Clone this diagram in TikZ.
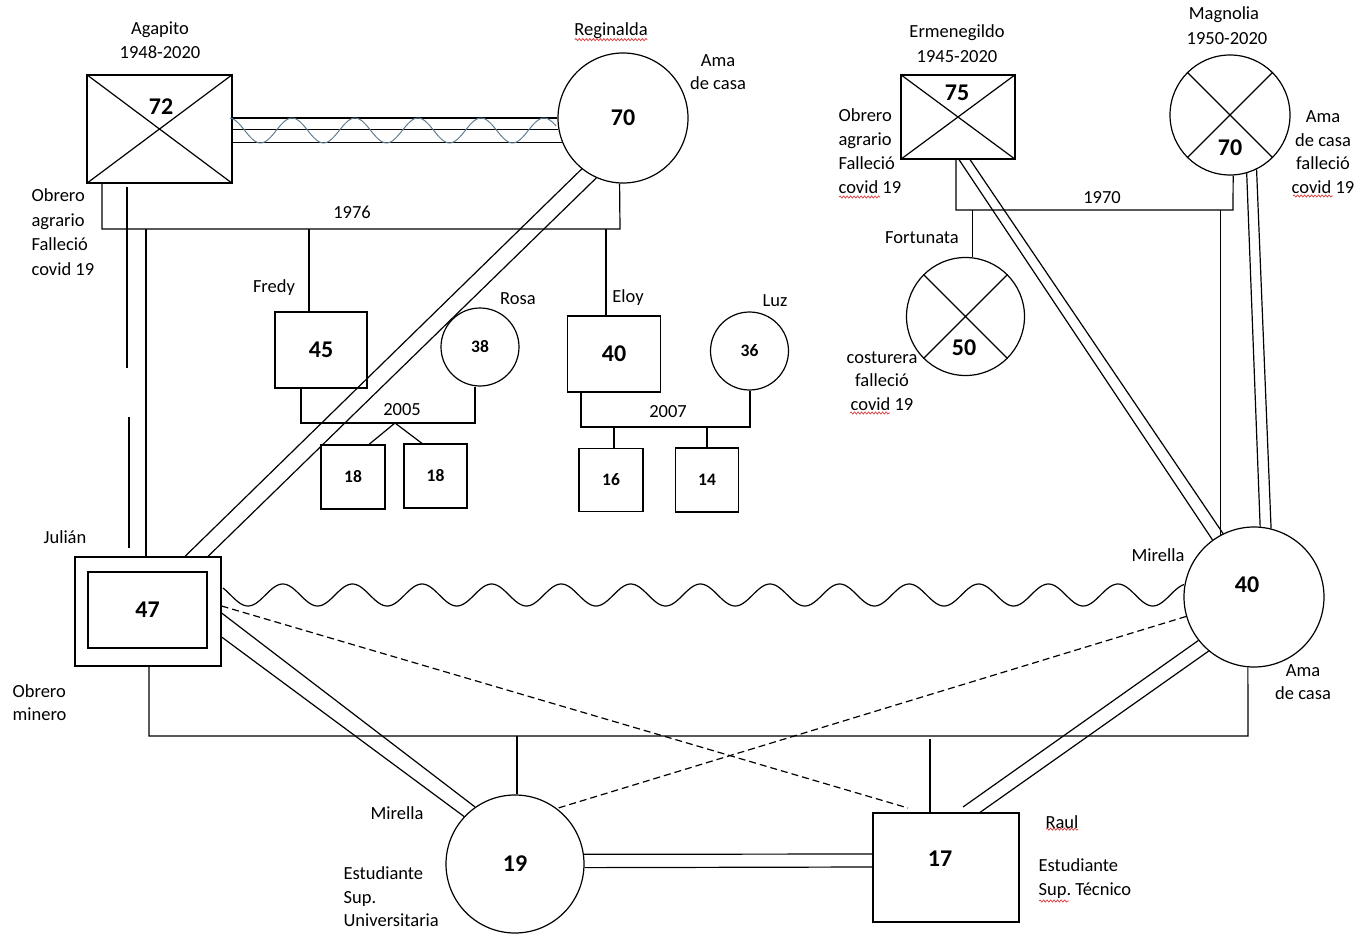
\documentclass[tikz,border=0pt]{standalone}
\usepackage{fontspec}
\setmainfont{Carlito}
\usetikzlibrary{decorations.pathmorphing}
\definecolor{wavec}{RGB}{95,125,145}
\definecolor{spellred}{RGB}{220,60,60}
\begin{document}
\begin{tikzpicture}[x=1pt,y=-1pt,line width=1.2pt,
  lbl/.style={font=\fontsize{18.5}{23.5}\selectfont, inner sep=0pt, align=center},
  infol/.style={lbl, align=left, anchor=west},
  bignum/.style={font=\bfseries\fontsize{24}{28}\selectfont},
  smallnum/.style={font=\bfseries\fontsize{17.5}{20}\selectfont},
  malebox/.style={draw, rectangle, inner sep=0pt},
  femcirc/.style={draw, circle, inner sep=0pt},
  dashedline/.style={dash pattern=on 7pt off 4pt},
  blueswave/.style={draw=wavec, line width=1pt},
  spell/.style={draw=spellred, line width=0.7pt, decorate, decoration={snake, amplitude=1.1pt, segment length=3.5pt}}]
\useasboundingbox (0,0) rectangle (1360,936);

% ---------- Agapito ----------
\node[malebox, minimum width=145pt, minimum height=108pt] (agap) at (159.5,129) {};
\draw (agap.north west) -- (agap.south east) (agap.north east) -- (agap.south west);
\node[bignum] (agapn) at (161,107) {72};
\node[lbl] (agapname) at (160,30) {Agapito};
\node[lbl] (agapyr) at (160,52) {1948-2020};
\node[infol, font=\fontsize{18.5}{24.7}\selectfont] (agapinfo) at (31,232) {Obrero\\agrario\\Falleció\\covid 19};

% ---------- Reginalda ----------
\node[femcirc, minimum size=130pt, bignum] (reg) at (623,118) {70};
\node[lbl] (regname) at (611,31) {Reginalda};
\draw[spell] ([xshift=1pt]regname.south west) -- ([xshift=-1pt]regname.south east);
\node[lbl] (reginfo) at (718,72) {Ama\\de casa};

% marriage lines with wave
\draw (agap.east |- reg.west) -- (reg.west);
\draw (agap.east |- reg.190) -- (reg.190);
\draw (agap.east |- reg.202) -- (reg.202);
\draw[blueswave] plot[domain=230:556, samples=160, smooth] (\x, {130.5-12.5*cos((\x-229)*5.7143)});

% 1976
\coordinate (c76l) at (102,229);
\coordinate (c76r) at (620,229);
\draw (c76l |- agap.south) -- (c76l) -- (c76r) -- (reg.267);
\node[lbl] (y1976) at (352,212) {1976};

% ---------- Julián ----------
\node[malebox, minimum width=146pt, minimum height=109pt] (jul) at (148,611.5) {};
\node[malebox, minimum width=119pt, minimum height=76pt, bignum] (julin) at (147.5,610) {47};
\node[lbl] (julname) at (65,537) {Julián};
\node[infol] (julinfo) at (12,702.5) {Obrero\\minero};

\coordinate (ga) at (127,187);
\coordinate (gb) at (127,368);
\coordinate (gc) at (129,417);
\coordinate (gd) at (129,548);
\draw (ga) -- (gb);
\draw (gc) -- (gd);
\draw (146,229) -- (jul.north -| 146,0);
\draw (reg.231) -- (jul.north -| 185,0);
\draw (reg.246) -- (jul.north -| 208,0);

% ---------- Fredy & Rosa ----------
\node[malebox, minimum width=92pt, minimum height=76pt, bignum] (fredy) at (321,350) {45};
\node[lbl] (fredyname) at (274,288) {Fredy};
\draw (309,229) -- (fredy.north -| 309,0);
\node[femcirc, minimum size=78pt, smallnum] (rosa) at (480,347) {38};
\node[lbl] (rosaname) at (518,299) {Rosa};
\coordinate (c05l) at (301,423);
\coordinate (c05r) at (475,423);
\draw (fredy.south -| c05l) -- (c05l) -- (c05r) -- (rosa.south -| c05r);
\node[lbl] (y2005) at (402,410) {2005};
\node[malebox, minimum width=64pt, minimum height=64pt, smallnum] (tw1) at (353,477) {18};
\node[malebox, minimum width=63pt, minimum height=64pt, smallnum] (tw2) at (435.5,476) {18};
\coordinate (ctw) at (395,423);
\draw (tw1.north -| 369,0) -- (ctw) -- (tw2.north -| 422,0);

% ---------- Eloy & Luz ----------
\node[malebox, minimum width=93pt, minimum height=76pt, bignum] (eloy) at (614,354) {40};
\node[lbl] (eloyname) at (628,298) {Eloy};
\draw (606,229) -- (eloy.north -| 606,0);
\node[femcirc, minimum size=78pt, smallnum] (luz) at (749.5,351) {36};
\node[lbl] (luzname) at (775,301) {Luz};
\coordinate (c07l) at (581,427);
\coordinate (c07r) at (750,427);
\draw (eloy.south -| c07l) -- (c07l) -- (c07r) -- (luz.south -| c07r);
\node[lbl] (y2007) at (668,412) {2007};
\node[malebox, minimum width=64pt, minimum height=63pt, smallnum] (s16) at (611,480) {16};
\node[malebox, minimum width=63pt, minimum height=64pt, smallnum] (s14) at (707,480) {14};
\draw (614,427) -- (s16.north -| 614,0);
\draw (707,427) -- (s14.north -| 707,0);

% ---------- Ermenegildo ----------
\node[malebox, minimum width=114pt, minimum height=84pt] (erm) at (958,117) {};
\draw (erm.north west) -- (erm.south east) (erm.north east) -- (erm.south west);
\node[bignum] (ermn) at (957,93) {75};
\node[lbl] (ermname) at (957,33) {Ermenegildo};
\node[lbl] (ermyr) at (957,57) {1945-2020};
\node[infol, font=\fontsize{18.5}{24}\selectfont] (erminfo) at (838,151) {Obrero\\agrario\\Falleció\\covid 19};
\draw[spell] (839,197) -- (880,197);

% ---------- Magnolia ----------
\node[femcirc, minimum size=120pt] (mag) at (1230,115) {};
\draw (mag.135) -- (mag.-45) (mag.45) -- (mag.-135);
\node[bignum] (magn) at (1230,148) {70};
\node[lbl] (magname) at (1224,15) {Magnolia};
\node[lbl] (magyr) at (1227,39) {1950-2020};
\node[lbl] (maginfo) at (1323,152) {Ama\\de casa\\falleció\\covid 19};
\draw[spell] (1293,196) -- (1333,196);

% 1970
\coordinate (c70l) at (956,210);
\coordinate (c70r) at (1233,210);
\draw (erm.south -| c70l) -- (c70l) -- (c70r) -- (mag.-87);
\node[lbl] (y1970) at (1102,198) {1970};

% ---------- Fortunata ----------
\node[femcirc, minimum size=118pt] (fort) at (965.5,316.5) {};
\draw (fort.135) -- (fort.-45) (fort.45) -- (fort.-135);
\node[bignum] (fortn) at (964,348) {50};
\draw (fort.83 |- c70l) -- (fort.83);
\node[lbl] (fortname) at (922,238) {Fortunata};
\node[lbl] (fortinfo) at (882,381) {costurera\\falleció\\covid 19};
\draw[spell] (850,413) -- (890,413);

% ---------- Mirella (40) ----------
\node[femcirc, minimum size=140pt] (mir) at (1254,597) {};
\node[bignum] (mirn) at (1247,585) {40};
\node[lbl] (mirname) at (1158,555) {Mirella};
\node[lbl] (mirinfo) at (1303,682) {Ama\\de casa};

\draw (mir.118 |- c70l) -- (mir.118);
\draw (erm.south -| 970,0) -- (mir.116);
\draw (erm.south -| 959,0) -- (mir.126);
\draw (mag.-74) -- (mir.85);
\draw (mag.-64) -- (mir.76);

% wave Julián–Mirella
\draw plot[domain=223:1184, samples=500, smooth] (\x,{595+11*cos((\x-248)*5.1724)});

% ---------- Mirella (19) & Raul ----------
\node[femcirc, minimum size=138pt, bignum] (dau) at (515,864) {19};
\node[lbl] (dauname) at (397,813) {Mirella};
\node[infol] (dauinfo) at (343,897) {Estudiante\\Sup.\\Universitaria};
\node[malebox, minimum width=146pt, minimum height=109pt] (raul) at (946,867.5) {};
\node[bignum] (rauln) at (940,859) {17};
\node[lbl] (raulname) at (1062,822) {Raul};
\draw[spell] ([xshift=1pt]raulname.south west) -- ([xshift=-1pt]raulname.south east);
\node[infol] (raulinfo) at (1038,878.5) {Estudiante\\Sup.\ Técnico};
\draw[spell] (1039,901) -- (1069,901);

\coordinate (c36l) at (149,736);
\coordinate (c36r) at (1248,736);
\draw (jul.south -| c36l) -- (c36l) -- (c36r) -- (mir.265);
\draw (517,736) -- (dau.north -| 517,0);
\draw (930,739) -- (raul.north -| 930,0);

\draw (jul.east |- 0,613) -- (dau.125);
\draw (jul.east |- 0,637) -- (dau.137);
\draw (dau.8) -- (raul.west |- 0,854);
\draw (dau.-3) -- (raul.west |- 0,867);
\draw (mir.218) -- (963,807);
\draw (mir.230) -- (raul.north -| 980,0);

\draw[dashedline] (jul.east |- 0,606) -- (908,808);
\draw[dashedline] (mir.196) -- (dau.53);
\end{tikzpicture}
\end{document}
